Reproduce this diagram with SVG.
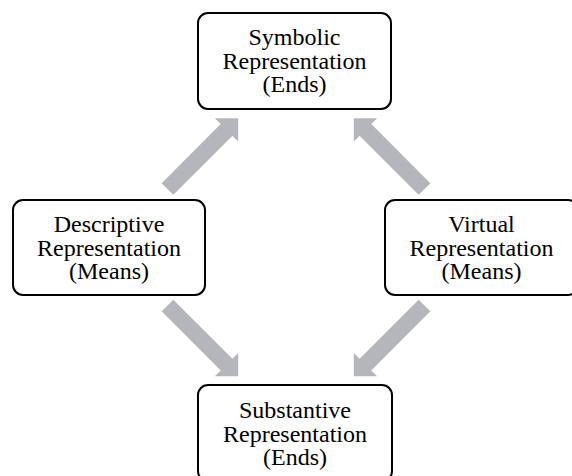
<svg xmlns="http://www.w3.org/2000/svg" width="572" height="476" viewBox="0 0 572 476">
  <style>
    .box { fill: #ffffff; stroke: #000000; stroke-width: 2; }
    .label { font-family: "Liberation Serif", "Times New Roman", serif; font-size: 24px; fill: #000000; text-anchor: middle; }
    .flow { fill: #b4b6bc; }
  </style>
  <defs>
    <!-- block arrow pointing along +x, 100 long -->
    <path id="blockArrow" d="M0,-8.25 L83.5,-8.25 L83.5,-16.5 L100,0 L83.5,16.5 L83.5,8.25 L0,8.25 Z"/>
  </defs>
  <rect width="572" height="476" fill="#ffffff"/>

  <g id="connectors">
    <use href="#blockArrow" class="flow" transform="translate(167.5,189) rotate(-45)"/>
    <use href="#blockArrow" class="flow" transform="translate(424.5,189) rotate(-135)"/>
    <use href="#blockArrow" class="flow" transform="translate(167.5,305.5) rotate(45)"/>
    <use href="#blockArrow" class="flow" transform="translate(424.5,305.5) rotate(135)"/>
  </g>

  <g id="symbolic">
    <rect class="box" x="198" y="13" width="193" height="96" rx="10"/>
    <text class="label" x="294.5" y="45">Symbolic</text>
    <text class="label" x="294.5" y="68.5">Representation</text>
    <text class="label" x="294.5" y="92">(Ends)</text>
  </g>

  <g id="descriptive">
    <rect class="box" x="13" y="200" width="192" height="95" rx="10"/>
    <text class="label" x="109" y="232">Descriptive</text>
    <text class="label" x="109" y="255.5">Representation</text>
    <text class="label" x="109" y="279">(Means)</text>
  </g>

  <g id="virtual">
    <rect class="box" x="385" y="200" width="193" height="95" rx="10"/>
    <text class="label" x="481.5" y="232">Virtual</text>
    <text class="label" x="481.5" y="255.5">Representation</text>
    <text class="label" x="481.5" y="279">(Means)</text>
  </g>

  <g id="substantive">
    <rect class="box" x="198" y="385" width="194" height="96" rx="10"/>
    <text class="label" x="295" y="418">Substantive</text>
    <text class="label" x="295" y="441.5">Representation</text>
    <text class="label" x="295" y="465">(Ends)</text>
  </g>
</svg>
